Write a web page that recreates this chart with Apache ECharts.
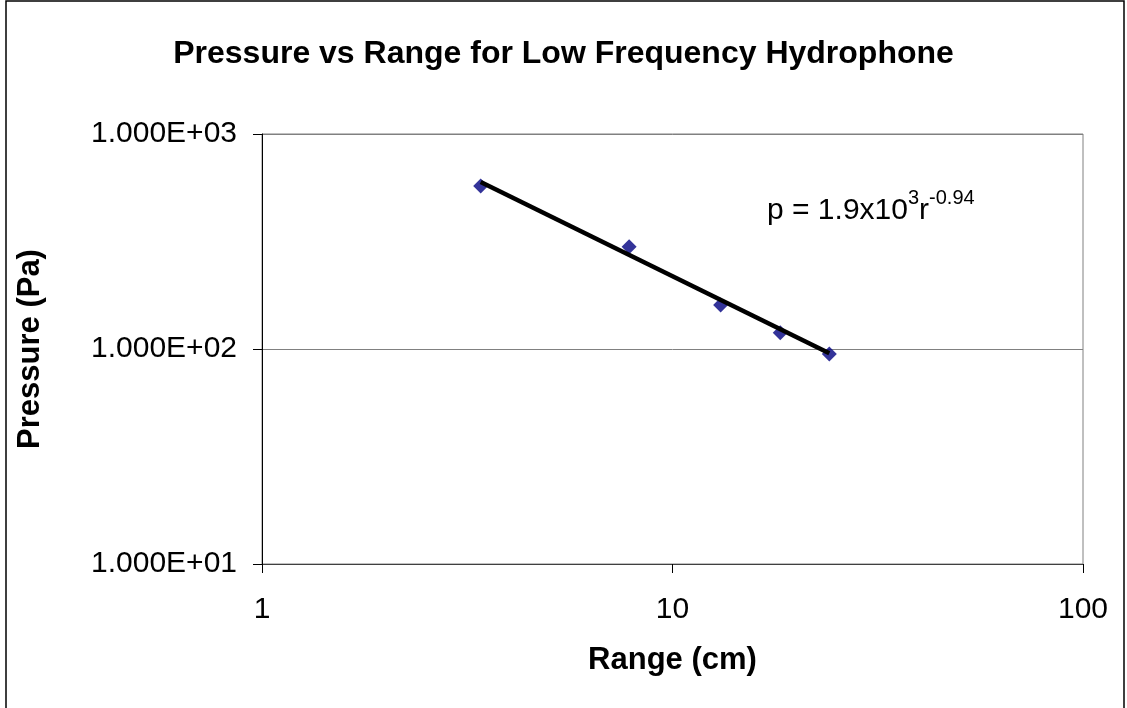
<!DOCTYPE html>
<html>
<head>
<meta charset="utf-8">
<title>Pressure vs Range</title>
<script src="https://cdn.jsdelivr.net/npm/echarts@6/dist/echarts.min.js"></script>
<style>
  html, body { margin: 0; padding: 0; background: #fff; }
  #chart { width: 1127px; height: 708px; }
</style>
</head>
<body>
<div id="chart"></div>
<script>
// measured points (range in cm, pressure in Pa)
var rangeCm = [3.41, 7.84, 13.1, 18.3, 24.1];
var pressurePa = [573, 299, 160, 119, 94.8];
// power-law trend line ends
var trendRange = [3.41, 24.1];
var trendPressure = [598, 95.5];
var xTicks = [1, 10, 100];
var yTicks = [10, 100, 1000];

var font = 'Liberation Sans, Arial, sans-serif';

function expLabel(v) {
    var e = Math.round(Math.log10(v));
    var m = v / Math.pow(10, e);
    var s = e < 0 ? '-' : '+';
    var ee = Math.abs(e);
    return m.toFixed(3) + 'E' + s + (ee < 10 ? '0' + ee : ee);
}

var pts = [];
for (var i = 0; i < rangeCm.length; i++) pts.push([rangeCm[i], pressurePa[i]]);
var trend = [];
for (var j = 0; j < trendRange.length; j++) trend.push([trendRange[j], trendPressure[j]]);

var myChart = echarts.init(document.getElementById('chart'));
var option = {
    backgroundColor: '#fff',
    animation: false,
    title: {
        text: 'Pressure vs Range for Low Frequency Hydrophone',
        left: 'center',
        top: 33,
        textStyle: { fontFamily: font, fontSize: 32, fontWeight: 'bold', color: '#000' }
    },
    grid: {
        left: 262, right: 44, top: 134, bottom: 144,
        show: true, borderColor: '#808080', borderWidth: 1,
        containLabel: false
    },
    xAxis: {
        type: 'log', logBase: 10, min: 1, max: 100,
        name: 'Range (cm)', nameLocation: 'middle', nameGap: 81,
        nameTextStyle: { fontFamily: font, fontSize: 31, fontWeight: 'bold', color: '#000' },
        axisLine: { lineStyle: { color: '#404040', width: 1 } },
        axisTick: { show: true, inside: false, length: 9, lineStyle: { color: '#000' } },
        minorTick: { show: false },
        splitLine: { show: false },
        axisLabel: {
            fontFamily: font, fontSize: 30, color: '#000', margin: 31,
            formatter: function (v) { return xTicks.indexOf(Math.round(v)) >= 0 ? String(Math.round(v)) : ''; }
        }
    },
    yAxis: {
        type: 'log', logBase: 10, min: 10, max: 1000,
        name: 'Pressure (Pa)', nameLocation: 'middle', nameGap: 216, nameRotate: 90,
        nameTextStyle: { fontFamily: font, fontSize: 31, fontWeight: 'bold', color: '#000' },
        axisLine: { show: true, lineStyle: { color: '#000', width: 1 } },
        axisTick: { show: true, inside: false, length: 9, lineStyle: { color: '#000' } },
        minorTick: { show: false },
        splitLine: { show: true, lineStyle: { color: '#808080', width: 1 } },
        axisLabel: {
            fontFamily: font, fontSize: 30, color: '#000', margin: 25,
            formatter: function (v) { return yTicks.indexOf(Math.round(v)) >= 0 ? expLabel(Math.round(v)) : ''; }
        }
    },
    graphic: [
        {
            type: 'rect', silent: true, z: 100,
            shape: { x: 6, y: 1, width: 1118, height: 740 },
            style: { fill: 'none', stroke: '#000', lineWidth: 1.5 }
        },
        {
            type: 'text', left: 767, top: 188, z: 100,
            style: {
                text: '{n|p = 1.9x10}{s|3}{n|r}{s|-0.94}',
                rich: {
                    n: { fontFamily: font, fontSize: 30, color: '#000', verticalAlign: 'bottom', lineHeight: 38 },
                    s: { fontFamily: font, fontSize: 20, color: '#000', verticalAlign: 'top', padding: [0, 0, 18, 0], lineHeight: 38 }
                }
            }
        }
    ],
    series: [
        {
            name: 'trend', type: 'line', data: trend,
            symbol: 'none', lineStyle: { color: '#000', width: 4.5 }, z: 3
        },
        {
            name: 'data', type: 'scatter', data: pts,
            symbol: 'diamond', symbolSize: 15,
            itemStyle: { color: '#000080' }, z: 2
        }
    ]
};
myChart.setOption(option);
</script>
</body>
</html>
